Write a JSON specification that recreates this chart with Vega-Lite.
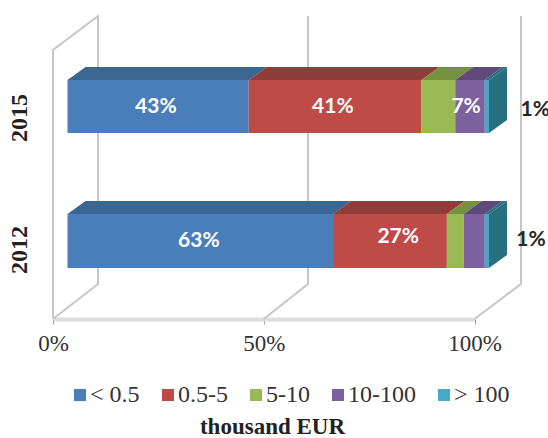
{
  "$schema": "https://vega.github.io/schema/vega-lite/v6.json",
  "autosize": {"type": "none"},
  "padding": {"left": 53, "top": 0, "right": 73.5, "bottom": 119},
  "width": 421.5,
  "height": 319,
  "background": "white",
  "config": {"view": {"stroke": null}},
  "resolve": {"axis": {"x": "independent", "y": "independent"}, "scale": {"fill": "independent"}},
  "datasets": {
    "walls": [
      {"wall": "left", "step": 1, "x": 0, "y": 0},
      {"wall": "left", "step": 2, "x": 0, "y": 269},
      {"wall": "left", "step": 3, "x": 10.68, "y": 303},
      {"wall": "left", "step": 4, "x": 10.68, "y": 35},
      {"wall": "left", "step": 5, "x": 0, "y": 0},
      {"wall": "middle", "step": 1, "x": 50, "y": 0},
      {"wall": "middle", "step": 2, "x": 60.5, "y": 35},
      {"wall": "middle", "step": 3, "x": 60.5, "y": 303},
      {"wall": "right", "step": 1, "x": 100, "y": 0},
      {"wall": "right", "step": 2, "x": 111.03, "y": 35},
      {"wall": "right", "step": 3, "x": 111.03, "y": 303}
    ],
    "segments": [
      {"year": "2015", "category": "< 0.5", "start": 0, "end": 43, "bottom": 186, "top": 239},
      {"year": "2015", "category": "0.5-5", "start": 43, "end": 84, "bottom": 186, "top": 239},
      {"year": "2015", "category": "5-10", "start": 84, "end": 92, "bottom": 186, "top": 239},
      {"year": "2015", "category": "10-100", "start": 92, "end": 99, "bottom": 186, "top": 239},
      {"year": "2015", "category": "> 100", "start": 99, "end": 100, "bottom": 186, "top": 239},
      {"year": "2012", "category": "< 0.5", "start": 0, "end": 63, "bottom": 51, "top": 105},
      {"year": "2012", "category": "0.5-5", "start": 63, "end": 90, "bottom": 51, "top": 105},
      {"year": "2012", "category": "5-10", "start": 90, "end": 94, "bottom": 51, "top": 105},
      {"year": "2012", "category": "10-100", "start": 94, "end": 99, "bottom": 51, "top": 105},
      {"year": "2012", "category": "> 100", "start": 99, "end": 100, "bottom": 51, "top": 105}
    ],
    "topFaces": [
      {"year": "2015", "category": "< 0.5", "y": 239, "x": 0, "x2": 43},
      {"year": "2015", "category": "< 0.5", "y": 252, "x": 4.27, "x2": 47.27},
      {"year": "2015", "category": "0.5-5", "y": 239, "x": 43, "x2": 84},
      {"year": "2015", "category": "0.5-5", "y": 252, "x": 47.27, "x2": 88.27},
      {"year": "2015", "category": "5-10", "y": 239, "x": 84, "x2": 92},
      {"year": "2015", "category": "5-10", "y": 252, "x": 88.27, "x2": 96.27},
      {"year": "2015", "category": "10-100", "y": 239, "x": 92, "x2": 99},
      {"year": "2015", "category": "10-100", "y": 252, "x": 96.27, "x2": 103.27},
      {"year": "2015", "category": "> 100", "y": 239, "x": 99, "x2": 100},
      {"year": "2015", "category": "> 100", "y": 252, "x": 103.27, "x2": 104.27},
      {"year": "2012", "category": "< 0.5", "y": 105, "x": 0, "x2": 63},
      {"year": "2012", "category": "< 0.5", "y": 118, "x": 4.27, "x2": 67.27},
      {"year": "2012", "category": "0.5-5", "y": 105, "x": 63, "x2": 90},
      {"year": "2012", "category": "0.5-5", "y": 118, "x": 67.27, "x2": 94.27},
      {"year": "2012", "category": "5-10", "y": 105, "x": 90, "x2": 94},
      {"year": "2012", "category": "5-10", "y": 118, "x": 94.27, "x2": 98.27},
      {"year": "2012", "category": "10-100", "y": 105, "x": 94, "x2": 99},
      {"year": "2012", "category": "10-100", "y": 118, "x": 98.27, "x2": 103.27},
      {"year": "2012", "category": "> 100", "y": 105, "x": 99, "x2": 100},
      {"year": "2012", "category": "> 100", "y": 118, "x": 103.27, "x2": 104.27}
    ],
    "endFaces": [
      {"year": "2015", "x": 100, "low": 186, "high": 239},
      {"year": "2015", "x": 104.27, "low": 199, "high": 252},
      {"year": "2012", "x": 100, "low": 51, "high": 105},
      {"year": "2012", "x": 104.27, "low": 64, "high": 118}
    ],
    "insideLabels": [
      {"label": "43%", "x": 24.4, "y": 212},
      {"label": "41%", "x": 66.4, "y": 212},
      {"label": "7%", "x": 98, "y": 212},
      {"label": "63%", "x": 34.6, "y": 78},
      {"label": "27%", "x": 81.9, "y": 82}
    ],
    "outsideLabels": [
      {"label": "1%", "x": 114.4, "y": 209},
      {"label": "1%", "x": 113.4, "y": 79}
    ],
    "years": [
      {"year": "2015", "x": -7.83, "y": 201},
      {"year": "2012", "x": -7.83, "y": 69}
    ]
  },
  "layer": [
    {
      "data": {"name": "walls"},
      "mark": {"type": "line", "color": "#c6c6c6", "strokeWidth": 2, "strokeJoin": "miter"},
      "encoding": {
        "x": {
          "field": "x", "type": "quantitative",
          "scale": {"domain": [0, 100], "nice": false, "zero": false},
          "axis": {
            "values": [0, 50, 100],
            "labelExpr": "datum.value + '%'",
            "grid": false,
            "domainColor": "#dedede",
            "domainWidth": 4,
            "tickColor": "#999999",
            "tickSize": 5,
            "tickWidth": 1,
            "labelFont": "Liberation Serif",
            "labelFontSize": 23,
            "labelColor": "#333333",
            "labelPadding": 8,
            "labelFlush": false,
            "labelOverlap": false,
            "title": "thousand EUR",
            "titleFont": "Liberation Serif",
            "titleFontSize": 23,
            "titleFontWeight": "bold",
            "titleColor": "#222222",
            "titleX": 219,
            "titleY": 114,
            "titleBaseline": "alphabetic"
          }
        },
        "y": {"field": "y", "type": "quantitative", "scale": {"domain": [0, 319], "nice": false, "zero": false}, "axis": null},
        "detail": {"field": "wall"},
        "order": {"field": "step"}
      }
    },
    {
      "data": {"name": "topFaces"},
      "mark": {"type": "area", "orient": "horizontal", "xOffset": 14.5, "x2Offset": 14.5},
      "encoding": {
        "y": {"field": "y", "type": "quantitative", "scale": {"domain": [0, 319], "nice": false, "zero": false}, "axis": null},
        "x": {"field": "x", "type": "quantitative", "stack": null, "scale": {"domain": [0, 100], "nice": false, "zero": false}, "axis": null},
        "x2": {"field": "x2"},
        "detail": {"field": "year"},
        "fill": {
          "field": "category", "type": "nominal", "legend": null,
          "scale": {
            "domain": ["< 0.5", "0.5-5", "5-10", "10-100", "> 100"],
            "range": ["#3b6692", "#8f3c3a", "#77923f", "#5f4a7b", "#287080"]
          }
        }
      }
    },
    {
      "data": {"name": "endFaces"},
      "mark": {"type": "area", "orient": "vertical", "xOffset": 14.5, "color": "#287080"},
      "encoding": {
        "x": {"field": "x", "type": "quantitative", "scale": {"domain": [0, 100], "nice": false, "zero": false}, "axis": null},
        "y": {"field": "low", "type": "quantitative", "stack": null, "scale": {"domain": [0, 319], "nice": false, "zero": false}, "axis": null},
        "y2": {"field": "high"},
        "detail": {"field": "year"}
      }
    },
    {
      "data": {"name": "segments"},
      "mark": {"type": "rect", "xOffset": 14.5, "x2Offset": 14.5},
      "encoding": {
        "x": {"field": "start", "type": "quantitative", "scale": {"domain": [0, 100], "nice": false, "zero": false}, "axis": null},
        "x2": {"field": "end"},
        "y": {"field": "bottom", "type": "quantitative", "scale": {"domain": [0, 319], "nice": false, "zero": false}, "axis": null},
        "y2": {"field": "top"},
        "color": {
          "field": "category", "type": "nominal",
          "scale": {
            "domain": ["< 0.5", "0.5-5", "5-10", "10-100", "> 100"],
            "range": ["#4a7ebb", "#be4b48", "#98b954", "#7d60a0", "#46aac5"]
          },
          "legend": {
            "orient": "none",
            "legendX": 15,
            "legendY": 383,
            "direction": "horizontal",
            "columns": 5,
            "title": null,
            "symbolType": "square",
            "symbolSize": 144,
            "symbolStrokeWidth": 0,
            "labelFont": "Liberation Serif",
            "labelFontSize": 24,
            "labelColor": "#333333",
            "labelOffset": -2,
            "columnPadding": 16
          }
        }
      }
    },
    {
      "data": {"name": "insideLabels"},
      "mark": {"type": "text", "font": "Lato", "fontWeight": "bold", "fontSize": 21, "color": "white"},
      "encoding": {
        "x": {"field": "x", "type": "quantitative", "scale": {"domain": [0, 100], "nice": false, "zero": false}, "axis": null},
        "y": {"field": "y", "type": "quantitative", "scale": {"domain": [0, 319], "nice": false, "zero": false}, "axis": null},
        "text": {"field": "label"}
      }
    },
    {
      "data": {"name": "outsideLabels"},
      "mark": {"type": "text", "font": "Lato", "fontWeight": "bold", "fontSize": 21, "color": "#262626"},
      "encoding": {
        "x": {"field": "x", "type": "quantitative", "scale": {"domain": [0, 100], "nice": false, "zero": false}, "axis": null},
        "y": {"field": "y", "type": "quantitative", "scale": {"domain": [0, 319], "nice": false, "zero": false}, "axis": null},
        "text": {"field": "label"}
      }
    },
    {
      "data": {"name": "years"},
      "mark": {"type": "text", "font": "Liberation Serif", "fontWeight": "bold", "fontSize": 24, "angle": 270, "color": "#222222"},
      "encoding": {
        "x": {"field": "x", "type": "quantitative", "scale": {"domain": [0, 100], "nice": false, "zero": false}, "axis": null},
        "y": {"field": "y", "type": "quantitative", "scale": {"domain": [0, 319], "nice": false, "zero": false}, "axis": null},
        "text": {"field": "year"}
      }
    }
  ]
}
